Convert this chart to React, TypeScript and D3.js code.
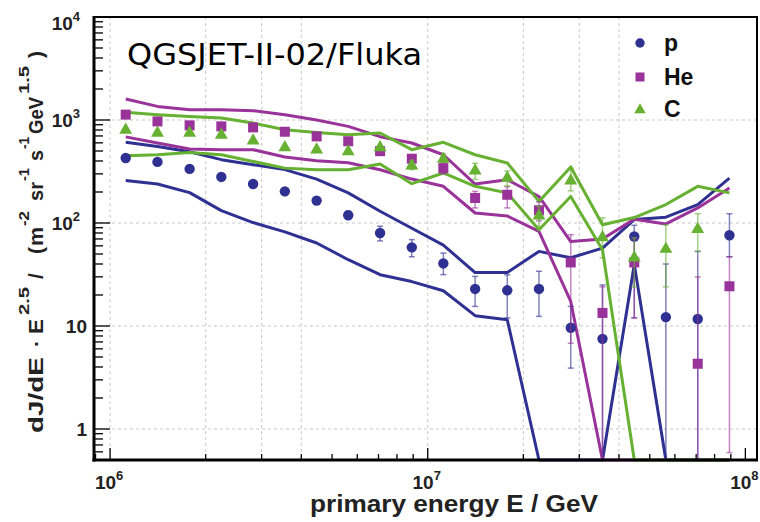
import React from 'react';
import * as d3 from 'd3';

// bin centres (GeV)
const energies = [1.12e6, 1.41e6, 1.78e6, 2.24e6, 2.82e6, 3.55e6, 4.47e6, 5.62e6, 7.08e6, 8.91e6,
  1.12e7, 1.41e7, 1.78e7, 2.24e7, 2.82e7, 3.55e7, 4.47e7, 5.62e7, 7.08e7, 8.91e7];

// unfolded spectra (markers) with error ranges
const pFlux = [428, 392, 335, 280, 239, 203, 165, 119, 80, 58, 40.5, 22.9, 22.2, 22.9, 9.6, 7.5, 74, 12.2, 11.7, 76];
const pErrLo = [null, null, null, null, null, null, null, 110, 67, 47, 31.5, 15.5, 12, 12.4, 3.9, 0, 12, 0, 0, 47];
const pErrHi = [null, null, null, null, null, null, null, 130, 93, 69, 51, 30.3, 31.4, 34, 15.5, 25, 95, 40, 53, 123];

const heFlux = [1128, 969, 887, 867, 848, 769, 693, 622, 498, 421, 341, 175, 188, 133, 41.4, 13.4, 41.4, null, 4.3, 24.3];
const heErrLo = [null, null, null, null, null, null, null, null, null, null, 300, 140, 140, 105, 6.8, 0, 12, null, 0, 0.59];
const heErrHi = [null, null, null, null, null, null, null, null, null, null, 390, 203, 225, 160, 77, 24, 70, null, 30, 47];

const cFlux = [818, 764, 764, 731, 644, 554, 526, 504, 554, 368, 428, 329, 280, 120, 263, 74, 47, 57, 89, null];
const cErrLo = [null, null, null, null, null, null, null, null, null, 330, 390, 265, 230, 93, 205, 46, 24, 24, 53, null];
const cErrHi = [null, null, null, null, null, null, null, null, null, 400, 470, 380, 320, 145, 340, 112, 72, 96, 123, null];

// systematic band lines
const pUpper = [608, 554, 492, 412, 368, 330, 267, 196, 130, 89, 61, 33, 33, 53, 46, 57, 108, 114, 151, 273];
const pLower = [258, 239, 197, 132, 101, 82, 64, 44, 31.5, 27, 22, 12.6, 11.5, 0, 0, 0, 39.5, 0, 0, 0];
const heUpper = [1600, 1355, 1259, 1259, 1231, 1125, 1000, 867, 689, 598, 460, 239, 263, 181, 66, 70, 109, 98, 140, 219];
const heLower = [686, 598, 523, 515, 515, 437, 403, 385, 329, 267, 227, 125, 117, 83, 17.3, 0, 0, 0, 0, 0];
const cUpper = [1186, 1125, 1083, 1045, 935, 805, 756, 720, 748, 515, 607, 460, 383, 162, 350, 96, 113, 151, 227, 196];
const cLower = [450, 459, 484, 459, 396, 341, 329, 329, 374, 241, 306, 227, 196, 86, 181, 55, 0, 0, 0, 0];

const xGridValues = [1e6, 2e6, 3e6, 4e6, 1e7, 2e7, 3e7, 4e7];
const yGridValues = [1, 10, 100, 1000];
const xTickLabels = [{ v: 1e6, base: '10', exp: '6' }, { v: 1e7, base: '10', exp: '7' }, { v: 1e8, base: '10', exp: '8' }];
const yTickLabels = [
  { v: 1, base: '1', exp: '' }, { v: 10, base: '10', exp: '' }, { v: 100, base: '10', exp: '2' },
  { v: 1000, base: '10', exp: '3' }, { v: 10000, base: '10', exp: '4' },
];
const legendNames = ['p', 'He', 'C'];

const BLUE = '#2e3192';
const PURPLE = '#993399';
const GREEN = '#66b032';

const L = 94, R = 757, T = 17, B = 460;
const YMIN = 0.5;
const x = d3.scaleLog().domain([8.9e5, 1.088e8]).range([L, R]);
const y = d3.scaleLog().domain([YMIN, 1e4]).range([B, T]);
const yc = (v: number) => y(Math.max(v, YMIN));

const FONT = '"Liberation Sans", Arial, Helvetica, sans-serif';

const line = d3.line<number>().x((_, i) => x(energies[i])).y((d) => yc(d));

function Marker({ kind, cx, cy, color, s = 1 }: { kind: string; cx: number; cy: number; color: string; s?: number }) {
  if (kind === 'circle') return <circle cx={cx} cy={cy} r={5.2 * s} fill={color} />;
  if (kind === 'square') return <rect x={cx - 5 * s} y={cy - 5 * s} width={10 * s} height={10 * s} fill={color} />;
  const path = d3.symbol(d3.symbolTriangle, 72 * s * s)() as string;
  return <path d={path} transform={`translate(${cx},${cy + 1})`} fill={color} />;
}

function Series({ vals, lo, hi, color, kind }: any) {
  return (
    <g>
      {vals.map((v: number | null, i: number) => {
        if (v == null || lo[i] == null) return null;
        const cx = x(energies[i]);
        const y1 = yc(hi[i]);
        const y2 = yc(lo[i]);
        return (
          <g key={i} stroke={color} strokeOpacity={0.6} strokeWidth={1.5}>
            <line x1={cx} x2={cx} y1={y1} y2={y2} />
            <line x1={cx - 3} x2={cx + 3} y1={y1} y2={y1} />
            {lo[i] > YMIN && <line x1={cx - 3} x2={cx + 3} y1={y2} y2={y2} />}
          </g>
        );
      })}
      {vals.map((v: number | null, i: number) =>
        v == null ? null : <Marker key={'m' + i} kind={kind} cx={x(energies[i])} cy={yc(v)} color={color} />
      )}
    </g>
  );
}

export default function App() {
  const xTicks: { v: number; major: boolean }[] = [];
  for (let d = 5; d <= 8; d++) for (let k = 1; k <= 9; k++) {
    const v = k * Math.pow(10, d);
    if (v >= 8.9e5 && v <= 1.088e8) xTicks.push({ v, major: k === 1 });
  }
  const yTicks: { v: number; major: boolean }[] = [];
  for (let d = -1; d <= 3; d++) for (let k = 1; k <= 9; k++) {
    const v = k * Math.pow(10, d);
    if (v >= YMIN && v <= 1e4) yTicks.push({ v, major: k === 1 });
  }
  yTicks.push({ v: 1e4, major: true });

  const lines = [
    { d: pUpper, c: BLUE }, { d: pLower, c: BLUE },
    { d: heUpper, c: PURPLE }, { d: heLower, c: PURPLE },
    { d: cUpper, c: GREEN }, { d: cLower, c: GREEN },
  ];

  // y-axis title pieces: [text, bottom y in image, isSuperscript, length]
  const yTitle: [string, number, boolean, number][] = [
    ['dJ/dE', 433, false, 76], ['·', 347, false, 0], ['E', 334, false, 15], ['2.5', 315, true, 28],
    ['/', 279, false, 0], ['(', 254, false, 0], ['m', 246, false, 19], ['-2', 226, true, 15],
    ['sr', 201, false, 19], ['-1', 181, true, 13], ['s', 161, false, 11], ['-1', 149, true, 12],
    ['GeV', 134, false, 37], ['1.5', 94, true, 28], [')', 58, false, 0],
  ];

  return (
    <svg width={760} height={522} style={{ position: 'absolute', left: 0, top: 0, background: '#fff' }}>
      <rect x={0} y={0} width={760} height={522} fill="#fff" />
      {/* grid */}
      <g stroke="#c8c8c8" strokeWidth={1} strokeDasharray="3,3">
        {xGridValues.map((v) => <line key={'gx' + v} x1={x(v)} x2={x(v)} y1={T} y2={B} />)}
        {yGridValues.map((v) => <line key={'gy' + v} x1={L} x2={R} y1={y(v)} y2={y(v)} />)}
      </g>
      {/* band lines */}
      <g fill="none" strokeWidth={3} strokeLinejoin="round">
        {lines.map((l, i) => <path key={i} d={line(l.d) as string} stroke={l.c} />)}
      </g>
      {/* data points */}
      <Series vals={pFlux} lo={pErrLo} hi={pErrHi} color={BLUE} kind="circle" />
      <Series vals={heFlux} lo={heErrLo} hi={heErrHi} color={PURPLE} kind="square" />
      <Series vals={cFlux} lo={cErrLo} hi={cErrHi} color={GREEN} kind="triangle" />
      {/* ticks */}
      <g stroke="#000" strokeWidth={1.3}>
        {xTicks.map((t) => <line key={'xt' + t.v} x1={x(t.v)} x2={x(t.v)} y1={B} y2={B - (t.major ? 12 : 6)} />)}
        {yTicks.map((t) => <line key={'yt' + t.v} x1={L} x2={L + (t.major ? 16 : 9)} y1={y(t.v)} y2={y(t.v)} />)}
      </g>
      {/* frame */}
      <rect x={L} y={T} width={R - L} height={B - T} fill="none" stroke="#000" strokeWidth={2} />
      <line x1={L} x2={L} y1={T - 1} y2={B + 1.5} stroke="#000" strokeWidth={3} />
      <line x1={L - 1.5} x2={R + 1} y1={B} y2={B} stroke="#000" strokeWidth={3} />
      {/* x tick labels */}
      <g fontFamily={FONT} fontWeight="bold" fill="#222">
        {xTickLabels.map((t) => (
          <text key={'xl' + t.v} x={x(t.v) - 1} y={489} textAnchor="middle" fontSize={19}>
            {t.base}
            <tspan fontSize={13} dy={-9}>{t.exp}</tspan>
          </text>
        ))}
        {yTickLabels.map((t) => (
          <text key={'yl' + t.v} x={t.exp ? 80 : 87} y={Math.max(y(t.v), 23) + 7} textAnchor="end" fontSize={19}>
            {t.base}
            {t.exp && <tspan fontSize={13} dy={-9}>{t.exp}</tspan>}
          </text>
        ))}
      </g>
      {/* axis titles */}
      <text x={310} y={512} fontFamily={FONT} fontWeight="bold" fontSize={23} fill="#222" textLength={288} lengthAdjust="spacingAndGlyphs">
        primary energy E / GeV
      </text>
      <g transform="rotate(-90)" fontFamily={FONT} fontWeight="bold" fill="#222">
        {yTitle.map(([s, yy, sup, len], i) =>
          len > 0 ? (
            <text key={'yt' + i} x={-yy} y={sup ? 29 : 43} fontSize={sup ? 15 : 21} textLength={len} lengthAdjust="spacingAndGlyphs">{s}</text>
          ) : (
            <text key={'yt' + i} x={-yy} y={sup ? 29 : 43} fontSize={sup ? 15 : 21}>{s}</text>
          )
        )}
      </g>
      {/* title */}
      <text x={127} y={65} fontFamily='"DejaVu Sans", Verdana, sans-serif' fontSize={30} fill="#000" textLength={295} lengthAdjust="spacingAndGlyphs">
        QGSJET-II-02/Fluka
      </text>
      {/* legend */}
      <g>
        {legendNames.map((n, i) => {
          const kinds = ['circle', 'square', 'triangle'];
          const cols = [BLUE, PURPLE, GREEN];
          const ly = [43, 77, 109][i];
          return (
            <g key={n}>
              <Marker kind={kinds[i]} cx={640} cy={ly} color={cols[i]} s={0.9} />
              <text x={664} y={ly + 8} fontFamily={FONT} fontWeight="bold" fontSize={23} fill="#111">{n}</text>
            </g>
          );
        })}
      </g>
    </svg>
  );
}
